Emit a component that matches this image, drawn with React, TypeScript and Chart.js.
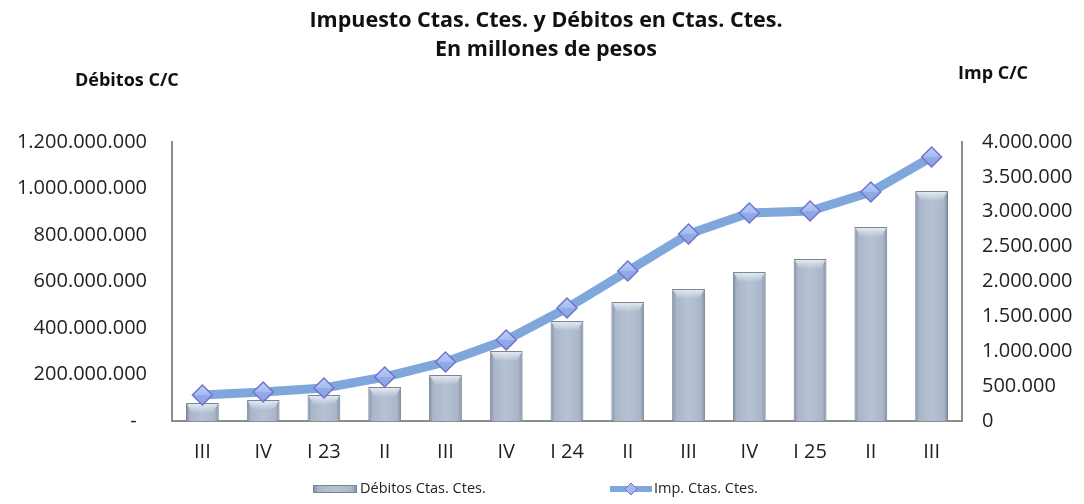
import React, { useEffect, useRef } from "react";
import { Chart, registerables } from "chart.js";

Chart.register(...registerables);

const categories = ["III", "IV", "I 23", "II", "III", "IV", "I 24", "II", "III", "IV", "I 25", "II", "III"];
const debitos = [77e6, 90e6, 112e6, 146e6, 198e6, 301e6, 430e6, 512e6, 568e6, 641e6, 697e6, 834e6, 989e6];
const impuesto = [373e3, 416e3, 473e3, 631e3, 846e3, 1161e3, 1620e3, 2150e3, 2681e3, 2982e3, 3011e3, 3283e3, 3785e3];
const titleLines = ["Impuesto Ctas. Ctes. y Débitos en Ctas. Ctes.", "En millones de pesos"];
const leftAxisTitle = "Débitos C/C";
const rightAxisTitle = "Imp C/C";
const seriesNames = ["Débitos Ctas. Ctes.", "Imp. Ctas. Ctes."];

const FONT = "'Open Sans', 'Liberation Sans', sans-serif";
const BAR_PCT = 0.54;

const fmt = (v: number) => Math.round(v).toString().replace(/\B(?=(\d{3})+(?!\d))/g, ".");

function barGradient(c: CanvasRenderingContext2D, x0: number, x1: number) {
  const g = c.createLinearGradient(x0, 0, x1, 0);
  g.addColorStop(0, "#7d899e");
  g.addColorStop(0.12, "#a9b6c9");
  g.addColorStop(0.5, "#b6c2d4");
  g.addColorStop(0.88, "#a9b6c9");
  g.addColorStop(1, "#7d899e");
  return g;
}

const bevelPlugin = {
  id: "bevel",
  afterDatasetDraw(chart: any, args: any) {
    const meta = args.meta;
    if (meta.type !== "bar") return;
    const c: CanvasRenderingContext2D = chart.ctx;
    c.save();
    for (const el of meta.data) {
      const { x, y, width, base } = el.getProps(["x", "y", "width", "base"], true);
      const h = Math.min(10, base - y - 2);
      if (h <= 2) continue;
      const l = x - width / 2 + 1;
      const r = x + width / 2 - 1;
      const g = c.createLinearGradient(0, y, 0, y + h);
      g.addColorStop(0, "rgba(236,241,248,0.95)");
      g.addColorStop(1, "rgba(236,241,248,0)");
      c.fillStyle = g;
      c.beginPath();
      c.moveTo(l, y + 1);
      c.lineTo(r, y + 1);
      c.lineTo(r - 5, y + h);
      c.lineTo(l + 5, y + h);
      c.closePath();
      c.fill();
    }
    c.restore();
  },
};

const decorPlugin = {
  id: "decor",
  afterDraw(chart: any) {
    const c: CanvasRenderingContext2D = chart.ctx;
    c.save();
    c.fillStyle = "#111";
    c.textBaseline = "alphabetic";
    c.textAlign = "center";
    c.font = `bold 21.5px ${FONT}`;
    c.fillText(titleLines[0], 546, 27);
    c.fillText(titleLines[1], 546, 56);
    c.font = `bold 18px ${FONT}`;
    c.textAlign = "left";
    c.fillText(leftAxisTitle, 75, 86);
    c.fillText(rightAxisTitle, 958, 79);

    // legend
    const ly = 489;
    c.fillStyle = barGradient(c, 313, 357);
    c.fillRect(313, ly - 4, 44, 8);
    c.strokeStyle = "#7a8494";
    c.lineWidth = 1;
    c.strokeRect(313.5, ly - 3.5, 43, 7);
    c.font = `14.5px ${FONT}`;
    c.fillStyle = "#222";
    c.textBaseline = "middle";
    c.fillText(seriesNames[0], 360, ly);

    c.strokeStyle = "#7fa7dc";
    c.lineWidth = 6;
    c.beginPath();
    c.moveTo(610, ly);
    c.lineTo(652, ly);
    c.stroke();
    c.beginPath();
    c.moveTo(631, ly - 6);
    c.lineTo(637, ly);
    c.lineTo(631, ly + 6);
    c.lineTo(625, ly);
    c.closePath();
    c.fillStyle = "#a3b8f0";
    c.fill();
    c.strokeStyle = "#7174c9";
    c.lineWidth = 1;
    c.stroke();
    c.fillStyle = "#222";
    c.fillText(seriesNames[1], 654, ly);
    c.restore();
  },
};

export default function App() {
  const ref = useRef<HTMLCanvasElement>(null);
  useEffect(() => {
    document.body.style.margin = "0";
    const canvas = ref.current!;
    const chart = new Chart(canvas, {
      type: "bar",
      data: {
        labels: categories,
        datasets: [
          {
            type: "line",
            label: seriesNames[1],
            data: impuesto,
            yAxisID: "y1",
            order: 0,
            borderColor: "#7fa7dc",
            borderWidth: 9,
            tension: 0,
            pointStyle: "rectRot",
            pointRadius: 10,
            pointBackgroundColor: (ctx: any) => {
              const chart = ctx.chart;
              const s = chart.scales.y1;
              const y = s ? s.getPixelForValue(impuesto[ctx.dataIndex] ?? 0) : NaN;
              if (!Number.isFinite(y)) return "#a0b7ef";
              const g = chart.ctx.createLinearGradient(0, y - 10, 0, y + 10);
              g.addColorStop(0, "#bcd0fa");
              g.addColorStop(0.5, "#a4bbf1");
              g.addColorStop(0.5, "#93abe8");
              g.addColorStop(1, "#8aa2e2");
              return g;
            },
            pointBorderColor: "#7174c9",
            pointBorderWidth: 1.5,
          } as any,
          {
            type: "bar",
            label: seriesNames[0],
            data: debitos,
            yAxisID: "y",
            order: 1,
            barPercentage: BAR_PCT,
            categoryPercentage: 1,
            borderColor: "#7a8494",
            borderWidth: 1,
            backgroundColor: (ctx: any) => {
              const chart = ctx.chart;
              const xs = chart.scales.x;
              if (!xs || !chart.chartArea) return "#b3c0d2";
              const cx = xs.getPixelForValue(ctx.dataIndex);
              const w = (xs.width / categories.length) * BAR_PCT;
              if (!Number.isFinite(cx) || !Number.isFinite(w) || w <= 0) return "#b3c0d2";
              return barGradient(chart.ctx, cx - w / 2, cx + w / 2);
            },
          },
        ],
      },
      options: {
        responsive: false,
        animation: false,
        layout: { padding: { top: 142, left: 0, right: 0, bottom: 0 } },
        plugins: { legend: { display: false }, title: { display: false }, tooltip: { enabled: false } },
        scales: {
          x: {
            grid: { display: false, drawTicks: false },
            border: { display: true, color: "#8c8c8c", width: 2 },
            ticks: { font: { family: FONT, size: 20 }, color: "#222", padding: 19, maxRotation: 0, autoSkip: false },
            afterFit: (s: any) => { s.height = 83; },
          },
          y: {
            position: "left",
            min: 0,
            max: 1200000000,
            grid: { display: false, drawTicks: false },
            border: { display: true, color: "#8c8c8c", width: 2 },
            ticks: {
              stepSize: 200000000,
              font: { family: FONT, size: 20 },
              color: "#222",
              padding: 25,
              callback: (v: any) => (Number(v) === 0 ? "-  " : fmt(Number(v))),
            },
            afterFit: (s: any) => { s.width = 172; },
          },
          y1: {
            position: "right",
            min: 0,
            max: 4000000,
            grid: { display: false, drawTicks: false },
            border: { display: true, color: "#8c8c8c", width: 2 },
            ticks: {
              stepSize: 500000,
              font: { family: FONT, size: 20 },
              color: "#222",
              padding: 20,
              callback: (v: any) => fmt(Number(v)),
            },
            afterFit: (s: any) => { s.width = 122; },
          },
        },
      },
      plugins: [bevelPlugin, decorPlugin],
    } as any);
    return () => chart.destroy();
  }, []);
  return (
    <div style={{ width: 1084, height: 504, background: "#fff" }}>
      <canvas ref={ref} width={1084} height={504} />
    </div>
  );
}
